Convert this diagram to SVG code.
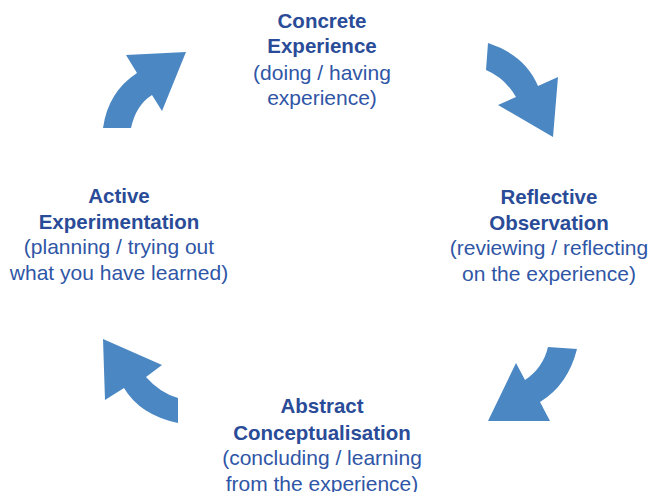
<svg xmlns="http://www.w3.org/2000/svg" width="651" height="492" viewBox="0 0 651 492">
<style>
.arrow{fill:#4a87c3}
text{font-family:"Liberation Sans",Arial,sans-serif;font-size:21px;text-anchor:middle;fill:#2f56a6}
.t{font-weight:bold;font-size:20.5px;fill:#2a4c98}
</style>
<rect width="651" height="492" fill="#fff"/>
<g id="connectors">
<path class="arrow" d="M103,128 Q108,92 137,73 L126,55 L186,52 L162,111 L152,95 Q136,105 131,128 Z"/>
<path class="arrow" d="M488,43 Q525,55 538,86 L558,77 L553,137 L498,105 L516,97 Q505,78 486,70 Z"/>
<path class="arrow" d="M548,347 L577,349 Q568,385 540,402 L550,421 L488,421 L516,363 L525,380 Q543,368 548,347 Z"/>
<path class="arrow" d="M103,339 L162,365 L146,377 Q160,393 178,398 L178,423 Q140,415 124,388 L105,400 Z"/>
</g>
<g id="concrete">
<text class="t" x="322" y="28">Concrete</text>
<text class="t" x="322" y="53">Experience</text>
<text x="322" y="80">(doing / having</text>
<text x="322" y="105">experience)</text>
</g>
<g id="reflective">
<text class="t" x="549" y="204">Reflective</text>
<text class="t" x="549" y="230">Observation</text>
<text x="549" y="255">(reviewing / reflecting</text>
<text x="549" y="281">on the experience)</text>
</g>
<g id="abstract">
<text class="t" x="322" y="413">Abstract</text>
<text class="t" x="322" y="440">Conceptualisation</text>
<text x="322" y="465">(concluding / learning</text>
<text x="322" y="491">from the experience)</text>
</g>
<g id="active">
<text class="t" x="119" y="203">Active</text>
<text class="t" x="119" y="229">Experimentation</text>
<text x="119" y="254">(planning / trying out</text>
<text x="119" y="280">what you have learned)</text>
</g>
</svg>
